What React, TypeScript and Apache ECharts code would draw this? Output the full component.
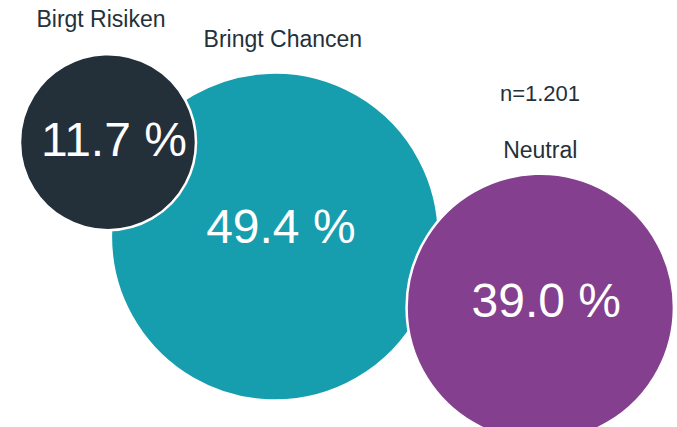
import React, { useEffect, useRef } from "react";
import * as echarts from "echarts";

const categories = ["Bringt Chancen", "Birgt Risiken", "Neutral"];
const shares = [49.4, 11.7, 39.0];
const colors = ["#169eae", "#23303a", "#843f8f"];
// bubble centres in axis units (0-100 both ways, y measured from top)
const xPos = [40.6, 15.95, 79.8];
const yPos = [55.4, 33.3, 72.0];
const sampleNote = "n=1.201";

const MIN_D = 176;
const MAX_D = 328;

function bubbleSize(v: number): number {
  const lo = Math.min(...shares);
  const hi = Math.max(...shares);
  return MIN_D + ((MAX_D - MIN_D) * (v * v - lo * lo)) / (hi * hi - lo * lo);
}

const valueOffset = [
  [6, -10],
  [6, -3],
  [6, -7],
];
const titleDistance = [22, 24, 12];
const titleOffset = [
  [8, 0],
  [-7, 0],
  [0, 0],
];

export default function App() {
  const ref = useRef<HTMLDivElement>(null);
  useEffect(() => {
    document.body.style.margin = "0";
    if (!ref.current) return;
    const chart = echarts.init(ref.current, null, { renderer: "svg" });
    const font = "Liberation Sans, Arial, Helvetica, sans-serif";
    const bubbles = categories.map((c, i) => ({
      name: c,
      value: [xPos[i], yPos[i], shares[i]],
    }));
    chart.setOption({
      animation: false,
      grid: { left: 0, right: 0, top: 0, bottom: 0, containLabel: false },
      xAxis: { type: "value", min: 0, max: 100, show: false },
      yAxis: { type: "value", min: 0, max: 100, inverse: true, show: false },
      series: [
        {
          type: "scatter",
          symbol: "circle",
          symbolSize: (val: number[]) => bubbleSize(val[2]),
          data: bubbles.map((b, i) => ({
            ...b,
            itemStyle: { color: colors[i], opacity: 1 },
            label: { offset: valueOffset[i] },
          })),
          itemStyle: { borderColor: "#ffffff", borderWidth: 2.5, opacity: 1 },
          label: {
            show: true,
            position: "inside",
            formatter: (p: any) => p.value[2].toFixed(1) + " %",
            color: "#ffffff",
            fontSize: 48,
            fontFamily: font,
          },
          emphasis: { disabled: true },
          z: 2,
        },
        {
          type: "scatter",
          symbol: "circle",
          symbolSize: (val: number[]) => bubbleSize(val[2]),
          data: bubbles.map((b, i) => ({
            ...b,
            itemStyle: { color: "rgba(0,0,0,0)", opacity: 1 },
            label: { distance: titleDistance[i], offset: titleOffset[i] },
          })),
          label: {
            show: true,
            position: "top",
            formatter: (p: any) => p.name,
            color: "#24313a",
            fontSize: 23,
            fontFamily: font,
          },
          emphasis: { disabled: true },
          silent: true,
          z: 3,
        },
      ],
      graphic: [
        {
          type: "text",
          x: 540,
          y: 93,
          style: {
            text: sampleNote,
            fill: "#24313a",
            font: "22px " + font,
            align: "center",
            verticalAlign: "middle",
          },
        },
      ],
    });
    return () => chart.dispose();
  }, []);
  return <div ref={ref} style={{ width: 677, height: 427 }} />;
}
